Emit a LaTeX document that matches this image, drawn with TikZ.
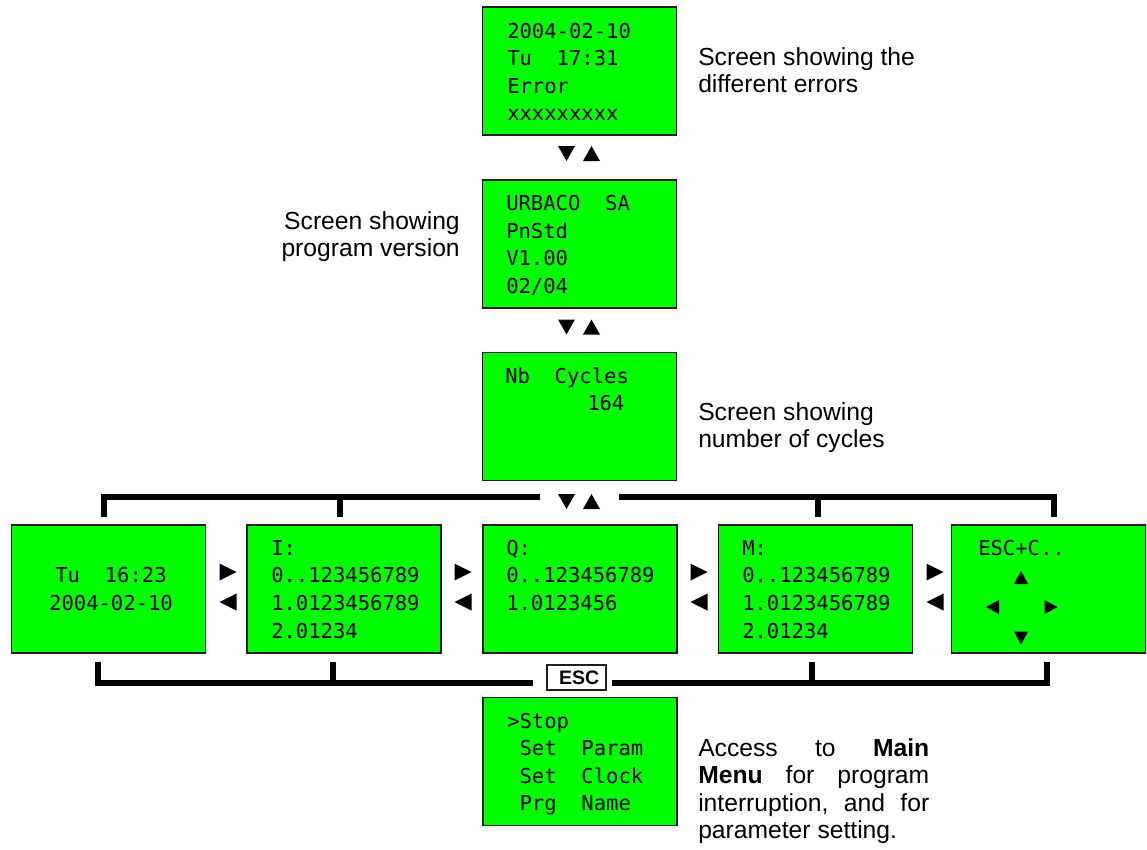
\documentclass[tikz,border=0pt]{standalone}
\usepackage{fontspec}
\setmainfont{Liberation Sans}
\newfontfamily\lcdfont{DejaVu Sans Mono}
\definecolor{lcd}{RGB}{0,255,0}
\definecolor{frame}{RGB}{30,30,30}
\tikzset{
  screen/.style={draw=frame, fill=lcd, line width=1.1pt, minimum width=145.5pt, minimum height=96pt, inner sep=0pt},
  lcdline/.style={anchor=mid west, inner sep=0pt, font=\lcdfont\fontsize{15.4}{21}\selectfont},
  lcdmid/.style={anchor=mid, inner sep=0pt, font=\lcdfont\fontsize{15.4}{21}\selectfont},
  lbl/.style={inner sep=0pt, font=\fontsize{18.5}{20.25}\selectfont},
  bracket/.style={line width=4.5pt, line join=miter, line cap=butt},
  keybox/.style={draw=frame, fill=white, line width=0.9pt, minimum width=44.25pt, minimum height=18.75pt, inner sep=0pt, font=\bfseries\fontsize{14.6}{16}\selectfont},
  triU/.pic={\fill (-.5,.5) -- (.5,.5) -- (0,-.5) -- cycle;},
  triD/.pic={\fill (-.5,-.5) -- (.5,-.5) -- (0,.5) -- cycle;},
  triR/.pic={\fill (-.5,-.5) -- (-.5,.5) -- (.5,0) -- cycle;},
  triL/.pic={\fill (.5,-.5) -- (.5,.5) -- (-.5,0) -- cycle;},
}
\begin{document}
\begin{tikzpicture}[x=0.75pt,y=-0.75pt]
\useasboundingbox (0,0) rectangle (1147,850);

% ---- screens ----
\node[screen] (err) at (579.5,71) {};
\node[screen] (ver) at (579.5,244) {};
\node[screen] (cyc) at (579.5,416.5) {};
\node[screen] (r1) at (108.5,589) {};
\node[screen] (r2) at (344,589) {};
\node[screen] (r3) at (580,589) {};
\node[screen] (r4) at (815.5,589) {};
\node[screen] (r5) at (1048.5,589) {};
\node[screen] (menu) at (580,761.5) {};

% ---- screen texts ----
\node[lcdline] (err1) at (507,34.5) {2004-02-10};
\node[lcdline] (err2) at (507,62) {Tu\ \ 17:31};
\node[lcdline] (err3) at (507,89.5) {Error};
\node[lcdline] (err4) at (507,117) {xxxxxxxxx};

\node[lcdline] (ver1) at (506,207) {URBACO\ \ SA};
\node[lcdline] (ver2) at (506,235) {PnStd};
\node[lcdline] (ver3) at (506,262) {V1.00};
\node[lcdline] (ver4) at (506,290) {02/04};

\node[lcdline] (cyc1) at (505,380) {Nb\ \ Cycles};
\node[lcdline] (cyc2) at (587,407) {164};

\node[lcdmid] (r1a) at (111,579) {Tu\ \ 16:23};
\node[lcdmid] (r1b) at (111,607) {2004-02-10};

\node[lcdline] (r2a) at (271,552) {I:};
\node[lcdline] (r2b) at (271,579) {0..123456789};
\node[lcdline] (r2c) at (271,607) {1.0123456789};
\node[lcdline] (r2d) at (271,635) {2.01234};

\node[lcdline] (r3a) at (506,552) {Q:};
\node[lcdline] (r3b) at (506,579) {0..123456789};
\node[lcdline] (r3c) at (506,607) {1.0123456};

\node[lcdline] (r4a) at (742,552) {M:};
\node[lcdline] (r4b) at (742,579) {0..123456789};
\node[lcdline] (r4c) at (742,607) {1.0123456789};
\node[lcdline] (r4d) at (742,635) {2.01234};

\node[lcdline] (r5a) at (978,552) {ESC+C..};
\pic[xscale=14,yscale=13] at (1021,577.5) {triU};
\pic[xscale=13,yscale=14] at (992.5,607) {triL};
\pic[xscale=13,yscale=14] at (1051,607) {triR};
\pic[xscale=14,yscale=13] at (1021,638) {triD};

\node[lcdline] (m1) at (507,725) {>Stop};
\node[lcdline] (m2) at (507,752) {\ Set\ \ Param};
\node[lcdline] (m3) at (507,780) {\ Set\ \ Clock};
\node[lcdline] (m4) at (507,807) {\ Prg\ \ Name};

% ---- vertical navigation arrows ----
\foreach \yy in {153.5,327,501.5}{
  \pic[xscale=17,yscale=15] at (566.5,\yy) {triD};
  \pic[xscale=17,yscale=15] at (591.5,\yy) {triU};
}
% ---- horizontal navigation arrows ----
\foreach \xx in {228,463,699,935}{
  \pic[xscale=17,yscale=17] at (\xx,572) {triR};
  \pic[xscale=17,yscale=17] at (\xx,602) {triL};
}

% ---- brackets ----
\coordinate (ta) at (104,517); \coordinate (tac) at (104,497);
\coordinate (tgl) at (540,497); \coordinate (tgr) at (619,497);
\coordinate (te) at (1054,517); \coordinate (tec) at (1054,497);
\coordinate (tb) at (340,517); \coordinate (tbt) at (340,497);
\coordinate (td) at (818,517); \coordinate (tdt) at (818,497);
\draw[bracket] (ta) -- (tac) -- (tgl);
\draw[bracket] (tgr) -- (tec) -- (te);
\draw[bracket] (tb) -- (tbt);
\draw[bracket] (td) -- (tdt);

\coordinate (ba) at (98,662); \coordinate (bac) at (98,683);
\coordinate (bgl) at (533,683); \coordinate (bgr) at (612,683);
\coordinate (be) at (1047,662); \coordinate (bec) at (1047,683);
\coordinate (bb) at (333,662); \coordinate (bbt) at (333,683);
\coordinate (bd) at (812,662); \coordinate (bdt) at (812,683);
\draw[bracket] (ba) -- (bac) -- (bgl);
\draw[bracket] (bgr) -- (bec) -- (be);
\draw[bracket] (bb) -- (bbt);
\draw[bracket] (bd) -- (bdt);

\node[keybox] (esc) at (576.5,677.5) {\hspace*{4pt}ESC};

% ---- labels ----
\node[lbl, anchor=base west] (l1) at (698,65) {\parbox[t]{250pt}{Screen showing the\\different errors}};
\node[lbl, anchor=base east] (l2) at (460,229.5) {\parbox[t]{200pt}{\raggedleft Screen showing\\program version}};
\node[lbl, anchor=base west] (l3) at (698,420.5) {\parbox[t]{250pt}{Screen showing\\number of cycles}};
\node[lbl, anchor=base west] (l4) at (698,756.5) {\parbox[t]{173.25pt}{\baselineskip=20.5pt Access\hfill to\hfill \textbf{Main}\\\textbf{Menu}\hfill for\hfill program\\interruption,\hfill and\hfill for\\parameter setting.}};
\end{tikzpicture}
\end{document}
